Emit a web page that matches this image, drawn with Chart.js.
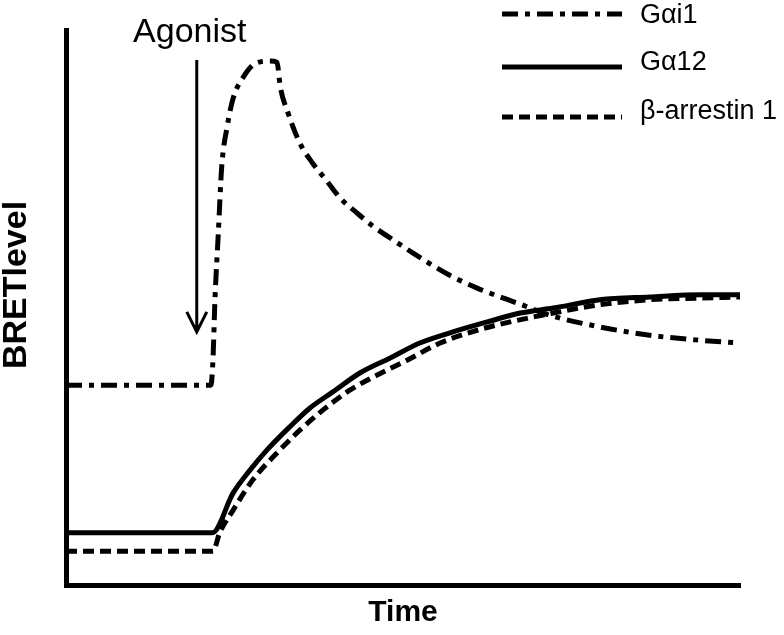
<!DOCTYPE html>
<html>
<head>
<meta charset="utf-8">
<script src="https://cdn.jsdelivr.net/npm/chart.js@4.4.1/dist/chart.umd.min.js"></script>
<style>
  html, body { margin: 0; padding: 0; background: #fff; }
  canvas { display: block; }
</style>
</head>
<body>
<canvas id="chart" width="784" height="635"></canvas>
<script>
// time axis (arbitrary units, 0..100) and BRET level (arbitrary units, 0..100)
const gai1Time = [0, 21.5, 21.8, 22.1, 22.6, 23.1, 23.9, 24.8, 26.3, 28.0, 30.3, 31.3, 31.8, 32.9, 34.7, 36.6, 38.7, 40.7, 43.2, 45.5, 48.5, 51.5, 54.5, 57.4, 61.0, 64.4, 67.4, 71.8, 79.2, 86.6, 94.1, 100]
const gai1Level = [36.0, 36.0, 40.5, 51.4, 63.4, 75.3, 82.5, 87.7, 91.5, 93.9, 94.4, 94.2, 89.7, 85.2, 79.6, 76.0, 72.8, 69.7, 67.0, 64.7, 62.2, 59.8, 57.5, 55.5, 53.5, 51.9, 50.6, 48.6, 46.5, 45.0, 44.1, 43.6]

const ga12Time = [0, 21.7, 24.8, 27.3, 29.8, 33.2, 36.2, 39.6, 43.6, 48.1, 52.5, 57.4, 62.5, 67.4, 72.3, 79.2, 86.6, 94.1, 100]
const ga12Level = [9.4, 9.4, 16.6, 20.7, 24.3, 28.5, 31.9, 34.8, 38.2, 40.9, 43.6, 45.6, 47.4, 49.0, 49.9, 51.4, 51.9, 52.3, 52.3]

const arrTime = [0, 21.8, 22.8, 24.8, 27.7, 31.3, 34.7, 38.1, 42.1, 46.1, 50.6, 55.5, 61.0, 65.9, 72.3, 79.2, 86.6, 94.1, 100]
const arrLevel = [6.1, 6.1, 9.4, 13.5, 18.9, 23.8, 27.9, 31.5, 35.1, 37.8, 40.5, 43.6, 45.9, 47.4, 49.0, 50.5, 51.4, 51.7, 51.9]

const seriesNames = ['G\u03b1i1', 'G\u03b112', '\u03b2-arrestin 1']

// agonist added at this time; arrow runs between these two levels
const agonistTime = 19.4
const agonistArrow = [94.6, 45.6]

const FONT = '"Liberation Sans", Arial, sans-serif'

const toPoints = (xs, ys) => xs.map((x, i) => ({ x: x, y: ys[i] }))

// legend, y title and agonist arrow, drawn on top of the chart
const extras = {
    id: 'extras',
    afterDraw(chart) {
        const ctx = chart.ctx
        const xs = chart.scales.x, ys = chart.scales.y

        ctx.save()
        ctx.strokeStyle = '#000'
        ctx.fillStyle = '#000'

        // y axis title (sits a little above the middle in the original)
        ctx.save()
        ctx.translate(17, 285)
        ctx.rotate(-Math.PI / 2)
        ctx.font = 'bold 34px ' + FONT
        ctx.textAlign = 'center'
        ctx.textBaseline = 'middle'
        ctx.fillText('BRETlevel', 0, 0)
        ctx.restore()

        // agonist arrow
        const ax = xs.getPixelForValue(agonistTime)
        const ay1 = ys.getPixelForValue(agonistArrow[0])
        const ay2 = ys.getPixelForValue(agonistArrow[1])
        ctx.lineWidth = 3
        ctx.setLineDash([])
        ctx.beginPath()
        ctx.moveTo(ax, ay1)
        ctx.lineTo(ax, ay2)
        ctx.moveTo(ax - 10, ay2 - 20)
        ctx.lineTo(ax, ay2)
        ctx.lineTo(ax + 10, ay2 - 20)
        ctx.stroke()

        ctx.font = '34px ' + FONT
        ctx.textAlign = 'center'
        ctx.textBaseline = 'alphabetic'
        ctx.fillText('Agonist', ax - 7, 42)

        // legend
        const rows = [14, 67, 117]
        const textY = [16, 63, 112]
        ctx.font = '27px ' + FONT
        ctx.textAlign = 'left'
        ctx.textBaseline = 'middle'
        chart.data.datasets.forEach((ds, i) => {
            ctx.lineWidth = 5
            ctx.setLineDash(ds.borderDash || [])
            ctx.beginPath()
            ctx.moveTo(502, rows[i])
            ctx.lineTo(622, rows[i])
            ctx.stroke()
            ctx.fillText(ds.label, 640, textY[i])
        })
        ctx.restore()
    }
}

const common = {
    borderColor: '#000',
    borderWidth: 5,
    pointRadius: 0,
    fill: false,
    cubicInterpolationMode: 'monotone'
}

new Chart(document.getElementById('chart'), {
    type: 'line',
    data: {
        datasets: [
            { ...common, label: seriesNames[0], data: toPoints(gai1Time, gai1Level), borderDash: [16, 7, 5, 7] },
            { ...common, label: seriesNames[1], data: toPoints(ga12Time, ga12Level), borderDash: [] },
            { ...common, label: seriesNames[2], data: toPoints(arrTime, arrLevel), borderDash: [11, 6] }
        ]
    },
    options: {
        responsive: false,
        animation: false,
        layout: { padding: { top: 30, right: 44, left: 66, bottom: 0 } },
        plugins: {
            legend: { display: false },
            tooltip: { enabled: false }
        },
        scales: {
            x: {
                type: 'linear',
                min: 0,
                max: 100,
                grid: { display: false, drawTicks: false },
                border: { display: true, color: '#000', width: 5 },
                ticks: { display: false },
                title: {
                    display: true,
                    text: 'Time',
                    color: '#000',
                    font: { family: FONT, size: 30, weight: 'bold' },
                    padding: { top: 10, bottom: 4 }
                }
            },
            y: {
                min: 0,
                max: 100,
                grid: { display: false, drawTicks: false },
                border: { display: true, color: '#000', width: 5 },
                ticks: { display: false },
                title: { display: false }
            }
        }
    },
    plugins: [extras]
})
</script>
</body>
</html>
